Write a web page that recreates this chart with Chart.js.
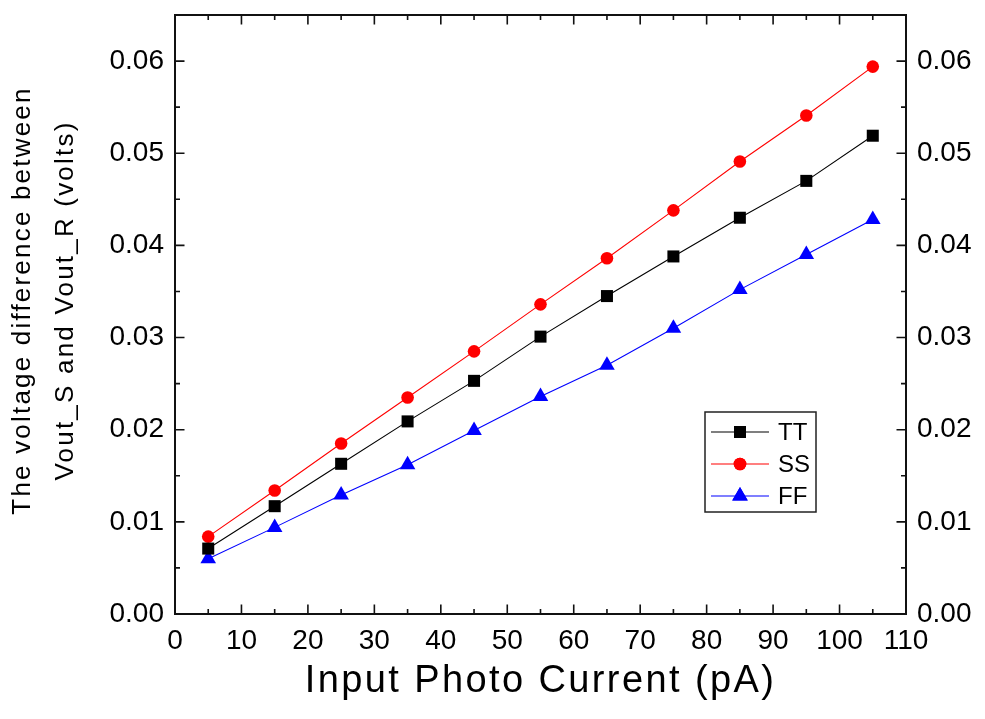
<!DOCTYPE html>
<html>
<head>
<meta charset="utf-8">
<script src="https://cdn.jsdelivr.net/npm/chart.js@4.4.0/dist/chart.umd.min.js"></script>
<style>
html,body{margin:0;padding:0;background:#fff;}
#wrap{width:985px;height:719px;position:relative;}
</style>
</head>
<body>
<div id="wrap"><canvas id="c" width="985" height="719"></canvas></div>
<script>
// ---- data ----
const currents = [5, 15, 25, 35, 45, 55, 65, 75, 85, 95, 105];
const ttValues = [0.0071, 0.0117, 0.0163, 0.0209, 0.0253, 0.0301, 0.0345, 0.0388, 0.0430, 0.0470, 0.0519];
const ssValues = [0.0084, 0.0134, 0.0185, 0.0235, 0.0285, 0.0336, 0.0386, 0.0438, 0.0491, 0.0541, 0.0594];
const ffValues = [0.0060, 0.0094, 0.0129, 0.0162, 0.0199, 0.0236, 0.0270, 0.0310, 0.0352, 0.0390, 0.0428];
const seriesNames = ['TT', 'SS', 'FF'];
const xTickValues = [0, 10, 20, 30, 40, 50, 60, 70, 80, 90, 100, 110];
const yTickValues = [0, 0.01, 0.02, 0.03, 0.04, 0.05, 0.06];
const xTitle = 'Input Photo Current (pA)';
const yTitle = ['The voltage difference between', 'Vout_S and Vout_R (volts)'];

const FONT = "'Liberation Sans', Arial, Helvetica, sans-serif";

function pts(vals){ return currents.map((x, i) => ({x: x, y: vals[i]})); }

function marker(ctx, style, r, x, y, color){
  ctx.save();
  ctx.fillStyle = color; ctx.strokeStyle = color;
  if (window.Chart && Chart.helpers && Chart.helpers.drawPoint) {
    Chart.helpers.drawPoint(ctx, {pointStyle: style, rotation: 0, radius: r, borderWidth: 0}, x, y);
    ctx.fill();
  } else {
    ctx.beginPath();
    if (style === 'rect') { const s = r * Math.SQRT1_2; ctx.rect(x - s, y - s, 2*s, 2*s); }
    else if (style === 'triangle') { ctx.moveTo(x, y - r); ctx.lineTo(x + r*0.866, y + r/2); ctx.lineTo(x - r*0.866, y + r/2); ctx.closePath(); }
    else { ctx.arc(x, y, r, 0, Math.PI*2); }
    ctx.fill();
  }
  ctx.restore();
}

const frameTicks = {
  id: 'frameTicks',
  beforeDatasetsDraw(chart){
    const ctx = chart.ctx, a = chart.chartArea;
    const xs = chart.scales.x, ys = chart.scales.y;
    ctx.save();
    ctx.strokeStyle = '#111';
    ctx.lineWidth = 1.6;
    ctx.beginPath();
    const xMaj = xTickValues.map(v => xs.getPixelForValue(v));
    const xMin = [];
    for (let i = 0; i < xMaj.length - 1; i++) xMin.push((xMaj[i] + xMaj[i+1]) / 2);
    const yMaj = yTickValues.map(v => ys.getPixelForValue(v));
    const yMin = [];
    for (let i = 0; i < yMaj.length - 1; i++) yMin.push((yMaj[i] + yMaj[i+1]) / 2);
    yMin.push(yMaj[yMaj.length-1] - (yMaj[0]-yMaj[1]) / 2);
    const L = 9.5, l = 5;
    xMaj.forEach(p => { ctx.moveTo(p, a.bottom); ctx.lineTo(p, a.bottom - L); ctx.moveTo(p, a.top); ctx.lineTo(p, a.top + L); });
    xMin.forEach(p => { ctx.moveTo(p, a.bottom); ctx.lineTo(p, a.bottom - l); ctx.moveTo(p, a.top); ctx.lineTo(p, a.top + l); });
    yMaj.forEach(p => { ctx.moveTo(a.left, p); ctx.lineTo(a.left + L, p); ctx.moveTo(a.right, p); ctx.lineTo(a.right - L, p); });
    yMin.forEach(p => { if (p > a.top + 1) { ctx.moveTo(a.left, p); ctx.lineTo(a.left + l, p); ctx.moveTo(a.right, p); ctx.lineTo(a.right - l, p); } });
    ctx.stroke();
    ctx.lineWidth = 2;
    ctx.strokeRect(a.left, a.top, a.right - a.left, a.bottom - a.top);
    ctx.restore();
  }
};

const boxLegend = {
  id: 'boxLegend',
  afterDatasetsDraw(chart){
    const ctx = chart.ctx;
    const bx = 705, by = 412, bw = 111, bh = 100;
    ctx.save();
    ctx.fillStyle = '#fff';
    ctx.fillRect(bx, by, bw, bh);
    ctx.strokeStyle = '#222';
    ctx.lineWidth = 1.5;
    ctx.strokeRect(bx, by, bw, bh);
    const rows = [432, 464, 496];
    chart.data.datasets.forEach((ds, i) => {
      const y = rows[i];
      ctx.strokeStyle = ds.borderColor;
      ctx.lineWidth = 1.2;
      ctx.beginPath(); ctx.moveTo(711, y); ctx.lineTo(769, y); ctx.stroke();
      marker(ctx, ds.pointStyle, ds.pointRadius, 740, y, ds.backgroundColor);
      ctx.fillStyle = '#000';
      ctx.font = '24px ' + FONT;
      ctx.textBaseline = 'middle';
      ctx.textAlign = 'left';
      ctx.fillText(ds.label, 778, y + 1);
    });
    ctx.restore();
  }
};

const titleSpacing = {
  id: 'titleSpacing',
  beforeDraw(chart){
    [['x', '2.4px', 0, 0], ['y', '2.2px', 0, -14]].forEach(([id, sp, dx, dy]) => {
      const s = chart.scales[id];
      if (s && !s.__wrapped) {
        const orig = s.drawTitle;
        s.drawTitle = function(){
          const c = this.ctx;
          c.save();
          c.letterSpacing = sp;
          c.translate(dx, dy);
          orig.call(this);
          c.restore();
        };
        s.__wrapped = true;
      }
    });
  }
};

const tickFont = {family: FONT, size: 28};
const fmtY = v => Number(v).toFixed(2);
const noPad = s => { s.paddingTop = 0; s.paddingBottom = 0; s.paddingLeft = 0; s.paddingRight = 0; };

new Chart(document.getElementById('c'), {
  type: 'line',
  data: {
    datasets: [
      {label: seriesNames[0], data: pts(ttValues), borderColor: '#000000', backgroundColor: '#000000',
       pointStyle: 'rect', pointRadius: 8.5, pointBorderWidth: 0, borderWidth: 1.1, tension: 0},
      {label: seriesNames[1], data: pts(ssValues), borderColor: '#ff0000', backgroundColor: '#ff0000',
       pointStyle: 'circle', pointRadius: 6.3, pointBorderWidth: 0, borderWidth: 1.1, tension: 0},
      {label: seriesNames[2], data: pts(ffValues), borderColor: '#0000ff', backgroundColor: '#0000ff',
       pointStyle: 'triangle', pointRadius: 9, pointBorderWidth: 0, borderWidth: 1.1, tension: 0}
    ]
  },
  options: {
    responsive: false,
    animation: false,
    devicePixelRatio: 1,
    layout: {padding: 0},
    plugins: {legend: {display: false}, tooltip: {enabled: false}},
    elements: {point: {hoverRadius: 0}},
    scales: {
      x: {
        type: 'linear', position: 'bottom', min: 0, max: 110,
        afterBuildTicks: s => { s.ticks = xTickValues.map(v => ({value: v})); },
        afterFit: s => { s.height = 105; noPad(s); },
        grid: {display: false, drawTicks: false},
        border: {display: false},
        ticks: {font: tickFont, color: '#000', padding: 10, maxRotation: 0, autoSkip: false},
        title: {display: true, text: xTitle, color: '#000',
                font: {family: FONT, size: 38, lineHeight: 1.2}, padding: {top: 0, bottom: 15}}
      },
      x2: {
        type: 'linear', position: 'top', min: 0, max: 110, display: true,
        afterFit: s => { s.height = 15; noPad(s); },
        grid: {display: false, drawTicks: false},
        border: {display: false},
        ticks: {display: false}
      },
      y: {
        type: 'linear', position: 'left', min: 0, max: 0.065,
        afterBuildTicks: s => { s.ticks = yTickValues.map(v => ({value: v})); },
        afterFit: s => { s.width = 175; noPad(s); },
        grid: {display: false, drawTicks: false},
        border: {display: false},
        ticks: {font: tickFont, color: '#000', padding: 11, callback: fmtY, autoSkip: false},
        title: {display: true, text: yTitle, color: '#000',
                font: {family: FONT, size: 26, lineHeight: 1.65}, padding: {top: 1, bottom: 0}}
      },
      y2: {
        type: 'linear', position: 'right', min: 0, max: 0.065, display: true,
        afterBuildTicks: s => { s.ticks = yTickValues.map(v => ({value: v})); },
        afterFit: s => { s.width = 79; noPad(s); },
        grid: {display: false, drawTicks: false},
        border: {display: false},
        ticks: {font: tickFont, color: '#000', padding: 11, callback: fmtY, autoSkip: false}
      }
    }
  },
  plugins: [titleSpacing, frameTicks, boxLegend]
});
</script>
</body>
</html>
